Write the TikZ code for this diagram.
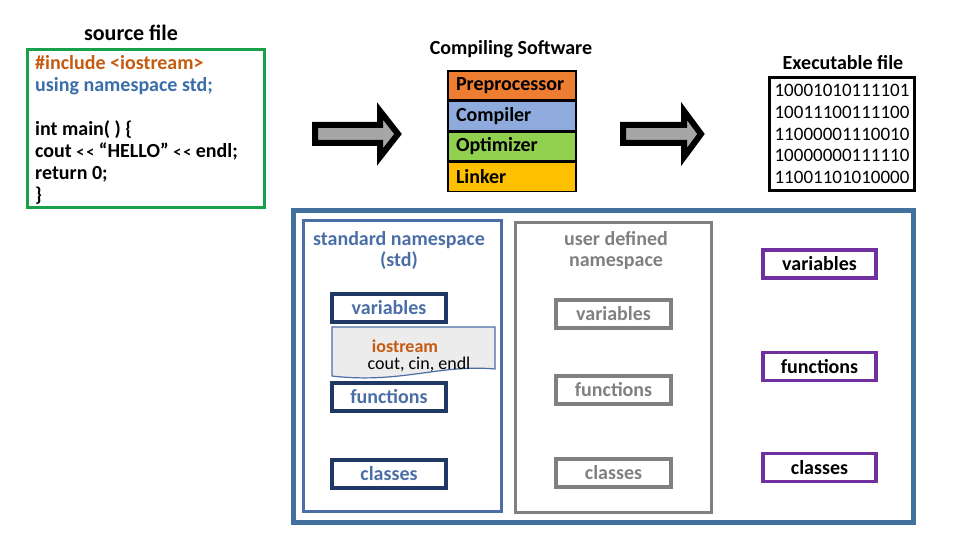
\documentclass[tikz,border=0pt]{standalone}
\usepackage{fontspec}
\setmainfont{Carlito}
\usetikzlibrary{positioning}
\definecolor{srcgreen}{RGB}{24,160,75}
\definecolor{codeorange}{RGB}{197,90,17}
\definecolor{codeblue}{RGB}{58,110,170}
\definecolor{preorange}{RGB}{237,125,49}
\definecolor{compblue}{RGB}{143,170,220}
\definecolor{optgreen}{RGB}{146,208,80}
\definecolor{linkgold}{RGB}{255,192,0}
\definecolor{frameblue}{RGB}{65,113,156}
\definecolor{stdblue}{RGB}{74,110,165}
\definecolor{navy}{RGB}{31,56,100}
\definecolor{udgray}{RGB}{128,128,128}
\definecolor{purp}{RGB}{112,48,160}
\newcommand{\fs}[2]{\fontsize{#1}{#2}\selectfont}
\newcommand{\shl}{{\fs{16}{22}<\kern2pt<}}

\begin{document}
\begin{tikzpicture}[ x=1pt , y=-1pt , font=\bfseries\fs{20}{22} ,
  stage/.style={ draw , line width=1.5pt , minimum width=128 , minimum height=29 , inner xsep=8pt , text width=112pt , align=left },
  stdbox/.style={ draw=navy , line width=4pt , minimum width=114 , minimum height=28 , inner sep=1pt , text=stdblue },
  udbox/.style={ draw=udgray , line width=4pt , minimum width=115 , minimum height=28 , inner sep=1pt , text=udgray },
  ownbox/.style={ draw=purp , line width=3.5pt , minimum width=113 , minimum height=28 , inner sep=1pt },
  bigarrow/.style={ draw=black , line width=6pt , line join=miter , fill={rgb,255:red,166;green,166;blue,166} } ]
\useasboundingbox (0,0) rectangle (960,540);

\node [ font=\bfseries\fs{22}{24} ] (srclbl) at (131,33) {source file};
\node [ draw=srcgreen , line width=3pt , minimum width=237 , minimum height=158 ] (src) at (146,128.5) {};
\node [ anchor=north west , align=left , inner sep=0pt , font=\bfseries\fs{20}{22} ] (code) at (35,55)
  {\textcolor{codeorange}{\#include <iostream>}\\
   \textcolor{codeblue}{using namespace std;}\\[22pt]
   int main( ) \{\\
   cout \shl{} “HELLO” \shl{} endl;\\
   return 0;\\
   \}};

\node (complbl) at (511,49) {Compiling Software};
\node [ stage , fill=preorange ] (pre) at (512,85.5) {Preprocessor};
\node [ stage , fill=compblue ] (comp) [ below = 0pt of pre ] {Compiler};
\node [ stage , fill=optgreen ] (opt) [ below = 0pt of comp ] {Optimizer};
\node [ stage , fill=linkgold ] (link) [ below = 0pt of opt ] {Linker};

\node (exelbl) at (843,63) {Executable file};
\node [ draw , line width=3pt , minimum width=145 , minimum height=113 , inner sep=2pt , align=center , font=\fs{19}{21.8} ] (exe) at (842,134)
  {10001010111101\\10011100111100\\11000001110010\\10000000111110\\11001101010000};

\draw [ bigarrow ] (315,125) -- (380,125) -- (380,111) -- (398,134) -- (380,157) -- (380,143) -- (315,143) -- cycle;
\draw [ bigarrow ] (623,125) -- (684,125) -- (684,111) -- (701,134) -- (684,157) -- (684,143) -- (623,143) -- cycle;

\node [ draw=frameblue , line width=5pt , minimum width=620 , minimum height=312 ] (frame) at (603,366) {};

\node [ draw=stdblue , line width=3pt , minimum width=198 , minimum height=291.5 ] (std) at (402.5,366) {};
\node [ text=stdblue , align=center , font=\bfseries\fs{20}{21} ] (stdlbl) at (399,250.5) {standard namespace\\(std)};
\node [ stdbox ] (stdvar) at (389,308) {variables};
\draw [ draw=stdblue , line width=1.2pt , fill={rgb,255:red,236;green,236;blue,236} ]
  (332,327) -- (495,327) -- (495,369) .. controls (440,364) and (400,384) .. (332,376) -- cycle;
\node [ align=center , inner sep=0pt , font=\fs{18}{17} ] (ios) at (419,355.5)
  {\textcolor{codeorange}{\bfseries iostream}\hspace*{28pt}\\cout, cin, endl};
\node [ stdbox ] (stdfun) at (389,397) {functions};
\node [ stdbox ] (stdcls) at (389,474) {classes};

\node [ draw=udgray , line width=3pt , minimum width=196 , minimum height=290 ] (ud) at (613.5,367.5) {};
\node [ text=udgray , align=center , font=\bfseries\fs{20}{21} ] (udlbl) at (616,251) {user defined\\namespace};
\node [ udbox ] (udvar) at (613.5,314) {variables};
\node [ udbox ] (udfun) at (613.5,390) {functions};
\node [ udbox ] (udcls) at (613.5,473) {classes};

\node [ ownbox ] (ownvar) at (819.5,264) {variables};
\node [ ownbox ] (ownfun) at (819.5,366.5) {functions};
\node [ ownbox ] (owncls) at (819.5,467.5) {classes};
\end{tikzpicture}
\end{document}
